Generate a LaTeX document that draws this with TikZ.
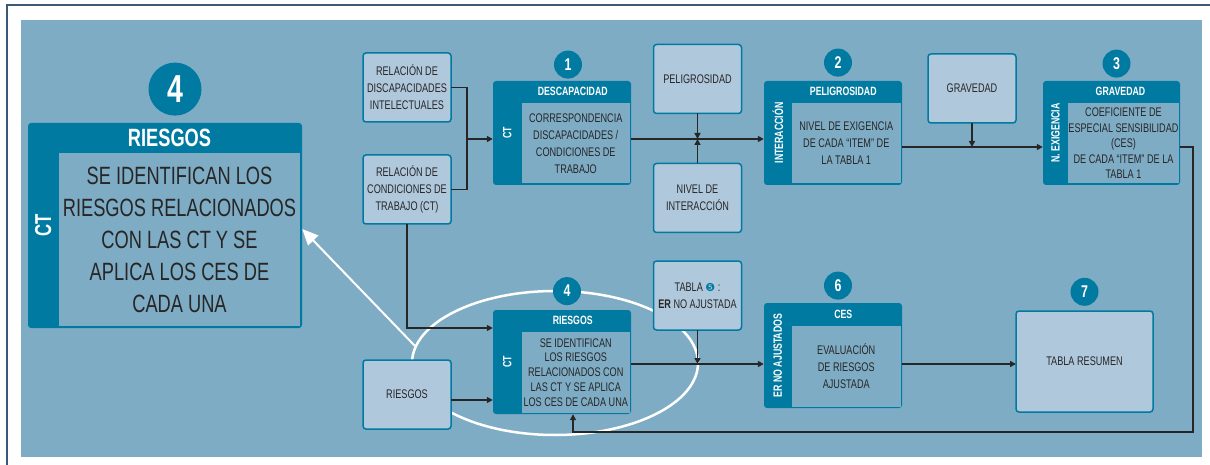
\documentclass[tikz,border=0pt]{standalone}
\usepackage{fontspec}
\setmainfont{Liberation Sans}[FakeStretch=0.73]
\newfontfamily\dingfont{DejaVu Sans}
\usepackage{tikz}
\usetikzlibrary{arrows.meta, calc, positioning, shapes.geometric}
\definecolor{flowbg}{RGB}{127,172,197}
\definecolor{flowbox}{RGB}{176,200,220}
\definecolor{flowteal}{RGB}{0,122,160}
\definecolor{flowink}{RGB}{38,38,38}
\definecolor{flowframe}{RGB}{60,90,115}

\begin{document}
\begin{tikzpicture}
			[x=1pt, y=-1pt,
			panel/.style={fill=flowteal, rounded corners=3pt, inner sep=0pt},
			body/.style={fill=flowbg, text=flowink, align=center, inner sep=0pt, font=\fontsize{12.5}{17}\selectfont},
			head/.style={text=white, inner sep=0pt, xshift=-3pt, font=\bfseries\fontsize{12}{14}\selectfont},
			side/.style={text=white, inner sep=0pt, rotate=90, font=\bfseries\fontsize{12}{14}\selectfont},
			input/.style={draw=flowteal, line width=1.5pt, fill=flowbox, rounded corners=3pt, text=flowink, align=center, minimum width=88pt, minimum height=69pt, inner sep=0pt, outer sep=0pt, font=\fontsize{12.5}{17}\selectfont},
			num/.style={circle, fill=flowteal, text=white, minimum size=28pt, inner sep=0pt, font=\bfseries\fontsize{17}{17}\selectfont},
			link/.style={line width=1.5pt, draw=flowink},
			flow/.style={link, -{Triangle[length=6pt, width=6pt]}}]
			\useasboundingbox (0,0) rectangle (1210,465);
			\fill[white] (0,0) rectangle (1210,465);
			\fill[flowbg] (21,20) rectangle (1202,457);
			\draw[flowframe, line width=2.5pt] (7,465) -- (7,5) -- (1210,5);

			\node[ellipse, draw=white, line width=2.5pt, minimum width=286pt, minimum height=144pt, inner sep=0pt] (halo) at (555,363) {};

			\node[panel, minimum width=274pt, minimum height=205pt] (bigpanel) at (165,225.5) {};
			\node[body, anchor=south east, minimum width=241pt, minimum height=173pt, font=\fontsize{25}{32}\selectfont] (bigbody) at ([shift={(-2pt,2pt)}]bigpanel.south east) {SE IDENTIFICAN LOS\\RIESGOS RELACIONADOS\\CON LAS CT Y SE\\APLICA LOS CES DE\\CADA UNA};
			\node[head, xshift=-7pt, font=\bfseries\fontsize{25}{25}\selectfont] at ($(bigbody.north)!0.5!(bigbody.north |- bigpanel.north)$) {RIESGOS};
			\node[side, font=\bfseries\fontsize{23}{23}\selectfont] at ($(bigpanel.west)!0.5!(bigbody.west |- bigpanel.west)$) {CT};
			\node[num, minimum size=53pt, font=\bfseries\fontsize{39}{39}\selectfont, above=7pt of bigpanel, xshift=10pt] (bignum) {4};

			\node[input] (reldis) at (407,87.5) {RELACIÓN DE\\DISCAPACIDADES\\INTELECTUALES};
			\node[input, below=33pt of reldis] (relcon) {RELACIÓN DE\\CONDICIONES DE\\TRABAJO (CT)};
			\node[input, below=136pt of relcon] (riskin) {RIESGOS};

			\node[panel, minimum width=138pt, minimum height=104pt] (descpanel) at (562,133) {};
			\node[body, anchor=south east, minimum width=107.5pt, minimum height=80.5pt] (descbody) at ([shift={(-1.5pt,1.5pt)}]descpanel.south east) {CORRESPONDENCIA\\DISCAPACIDADES /\\CONDICIONES DE\\TRABAJO};
			\node[head] at ($(descbody.north)!0.5!(descbody.north |- descpanel.north)$) {DESCAPACIDAD};
			\node[side] at ($(descpanel.west)!0.5!(descbody.west |- descpanel.west)$) {CT};
			\node[num, above=2pt of descpanel, xshift=6pt] (num1) {1};

			\node[input] (pelig) at (697.5,79) {PELIGROSIDAD};
			\node[input, below=50pt of pelig] (nivel) {NIVEL DE\\INTERACCIÓN};

			\node[panel, minimum width=138pt, minimum height=104pt] (pelpanel) at (833,133) {};
			\node[body, anchor=south east, minimum width=108.5pt, minimum height=80.5pt] (pelbody) at ([shift={(-1.5pt,1.5pt)}]pelpanel.south east) {NIVEL DE EXIGENCIA\\DE CADA “ITEM” DE\\LA TABLA 1};
			\node[head] at ($(pelbody.north)!0.5!(pelbody.north |- pelpanel.north)$) {PELIGROSIDAD};
			\node[side] at ($(pelpanel.west)!0.5!(pelbody.west |- pelpanel.west)$) {INTERACCIÓN};
			\node[num, above=4pt of pelpanel, xshift=5pt] (num2) {2};

			\node[input] (grav) at (972,88.5) {GRAVEDAD};

			\node[panel, minimum width=137pt, minimum height=104pt] (gravpanel) at (1111.5,133) {};
			\node[body, anchor=south east, minimum width=108.5pt, minimum height=80.5pt, font=\fontsize{12.5}{15.5}\selectfont] (gravbody) at ([shift={(-1.5pt,1.5pt)}]gravpanel.south east) {COEFICIENTE DE\\ESPECIAL SENSIBILIDAD\\(CES)\\DE CADA “ITEM” DE LA\\TABLA 1};
			\node[head] at ($(gravbody.north)!0.5!(gravbody.north |- gravpanel.north)$) {GRAVEDAD};
			\node[side] at ($(gravpanel.west)!0.5!(gravbody.west |- gravpanel.west)$) {N. EXIGENCIA};
			\node[num, above=3pt of gravpanel, xshift=5pt] (num3) {3};

			\node[panel, minimum width=138pt, minimum height=104pt] (riskpanel) at (562,362) {};
			\node[body, anchor=south east, minimum width=107.5pt, minimum height=80.5pt, font=\fontsize{12.5}{14.75}\selectfont] (riskbody) at ([shift={(-1.5pt,1.5pt)}]riskpanel.south east) {SE IDENTIFICAN\\LOS RIESGOS\\RELACIONADOS CON\\LAS CT Y SE APLICA\\LOS CES DE CADA UNA};
			\node[head] at ($(riskbody.north)!0.5!(riskbody.north |- riskpanel.north)$) {RIESGOS};
			\node[side] at ($(riskpanel.west)!0.5!(riskbody.west |- riskpanel.west)$) {CT};
			\node[num, above=4.5pt of riskpanel, xshift=5pt] (num4) {4};

			\node[input] (tabla) at (697.5,295.5) {TABLA {\dingfont\fontsize{11}{17}\selectfont\textcolor{flowteal}{❺}} :\\\textbf{ER} NO AJUSTADA};

			\node[panel, minimum width=138pt, minimum height=105pt] (cespanel) at (833,355.5) {};
			\node[body, anchor=south east, minimum width=108.5pt, minimum height=80.5pt] (cesbody) at ([shift={(-1.5pt,1.5pt)}]cespanel.south east) {EVALUACIÓN\\DE RIESGOS\\AJUSTADA};
			\node[head] at ($(cesbody.north)!0.5!(cesbody.north |- cespanel.north)$) {CES};
			\node[side] at ($(cespanel.west)!0.5!(cesbody.west |- cespanel.west)$) {ER NO AJUSTADOS};
			\node[num, above=3pt of cespanel, xshift=5pt] (num6) {6};

			\node[input, minimum width=137pt, minimum height=101pt] (resumen) at (1084.5,361.5) {TABLA RESUMEN};
			\node[num, above=5pt of resumen] (num7) {7};

			\coordinate (mrg) at (467,139);
			\coordinate (sev) at (972,147);
			\coordinate (ret) at (1193,432);
			\coordinate (mid) at (697,364);

			\draw[link] (reldis.east) -| (mrg) |- (relcon.east);
			\draw[flow] (mrg) -- (mrg -| descpanel.west);
			\draw[flow] (descpanel.east |- mrg) -- (pelpanel.west |- mrg);
			\draw[flow] (pelig) -- (pelig |- mrg);
			\draw[flow] (nivel) -- (nivel |- mrg);

			\draw[flow] (pelpanel.east |- sev) -- (gravpanel.west |- sev);
			\draw[flow] (grav) -- (sev);
			\draw[flow] (gravpanel.east |- sev) -| (ret) -| ([xshift=11pt]riskpanel.south);

			\draw[flow] (relcon.south) |- ([yshift=34pt]riskpanel.west);
			\draw[flow] (riskin.east |- 0,400) -- (riskpanel.west |- 0,400);
			\draw[flow] (tabla) -- (tabla |- mid);
			\draw[flow] (riskpanel.east |- mid) -- (cespanel.west |- mid);
			\draw[flow] (cespanel.east |- mid) -- (resumen.west |- mid);

			\draw[white, line width=2pt, -{Triangle[length=16pt, width=14pt]}] (halo.173) -- (bigpanel.east |- 0,229);
		\end{tikzpicture}
\end{document}
